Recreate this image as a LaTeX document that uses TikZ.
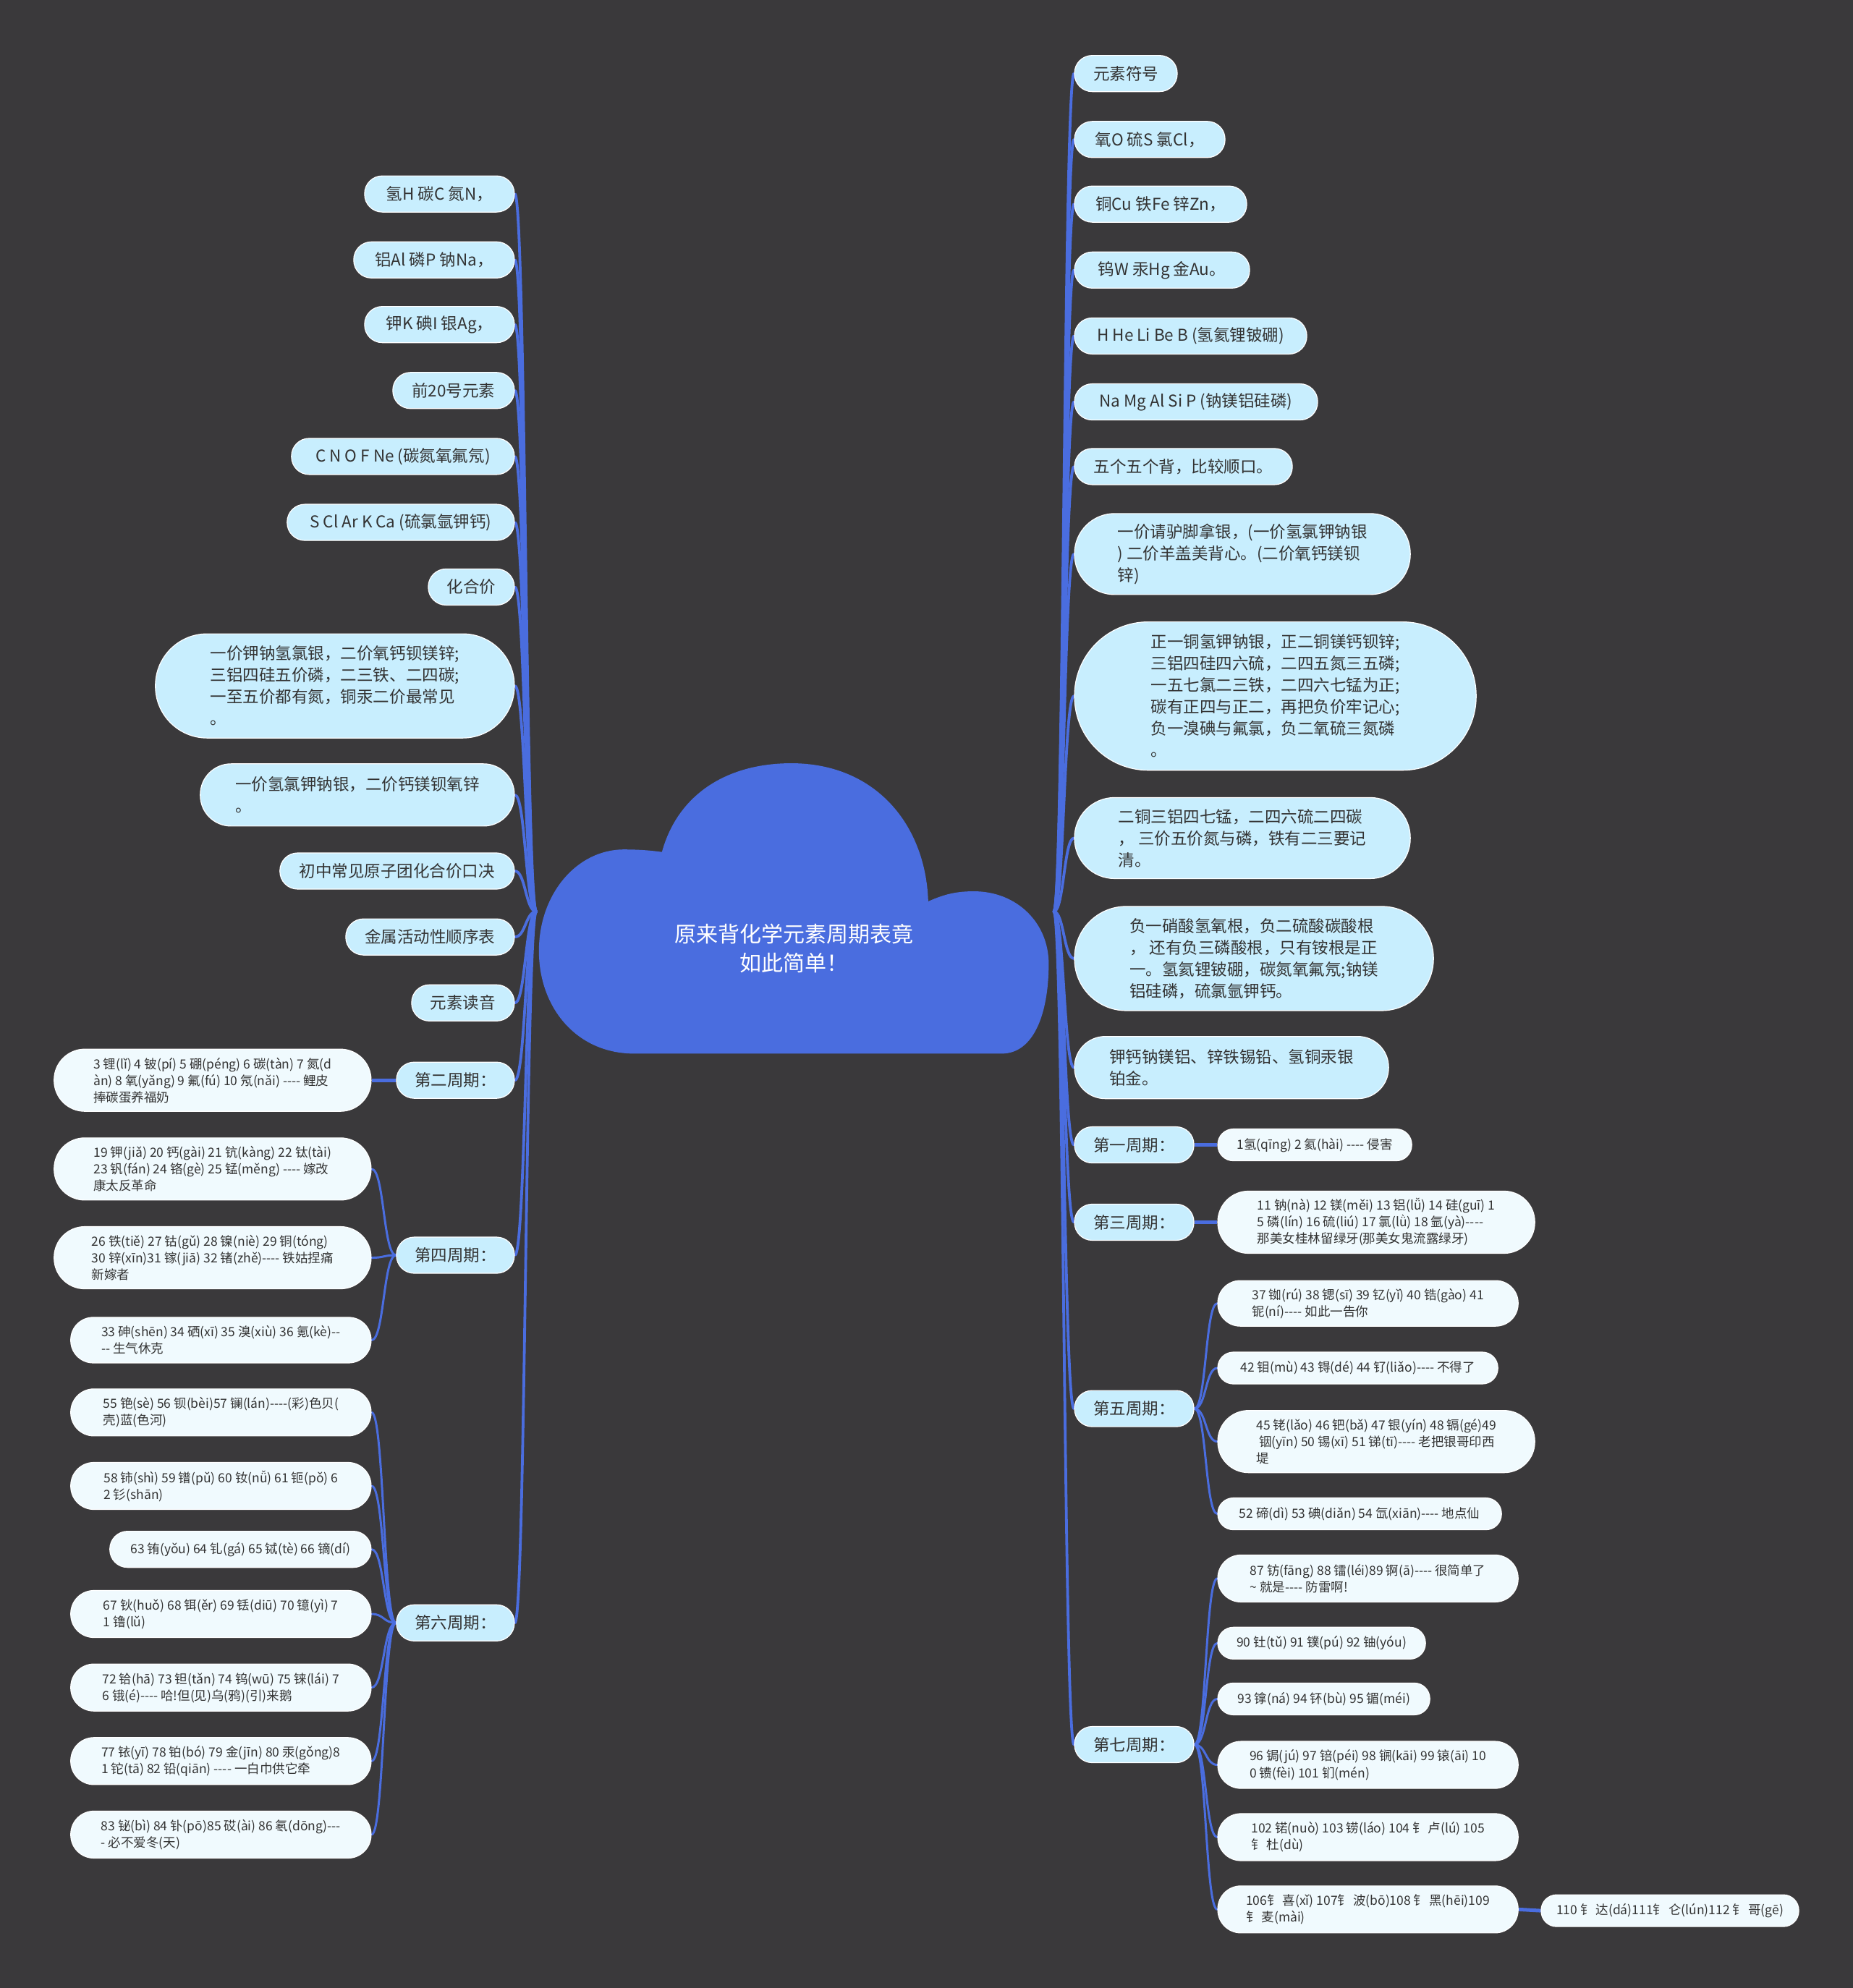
\documentclass[tikz,border=0pt]{standalone}
\usepackage{fontspec}
\newfontfamily\cjk{Noto Sans CJK SC}
\pgfdeclarelayer{back}
\pgfsetlayers{back,main}
\definecolor{bgc}{HTML}{3A393B}
\definecolor{blu}{HTML}{4A6DDF}
\definecolor{mfill}{HTML}{C8EEFE}
\definecolor{cfill}{HTML}{F0FAFE}
\definecolor{txt}{HTML}{333333}
\newcommand\hh{-\kern0pt}
\newcommand\qd{\hh\hh\hh\hh}
\begin{document}
\begin{tikzpicture}[x=1.752pt,y=-1.752pt,
  base/.style={draw=white, line width=1.2pt, text=txt, inner sep=0pt, align=left},
  mn/.style={base, fill=mfill, font=\cjk\fontsize{22.5}{30}\selectfont},
  sn/.style={base, fill=cfill, font=\cjk\fontsize{17.5}{23}\selectfont},
  h44/.style={minimum height=44pt, rounded corners=21.5pt},
  h50/.style={minimum height=50pt, rounded corners=24.5pt},
  h63/.style={minimum height=63pt, rounded corners=31pt},
  h65/.style={minimum height=65pt, rounded corners=32pt},
  h86/.style={minimum height=86pt, rounded corners=42.5pt},
  h112/.style={minimum height=112pt, rounded corners=55.5pt},
  h144/.style={minimum height=144pt, rounded corners=71.5pt},
  h205/.style={minimum height=205pt, rounded corners=102pt},
  trunk/.style={draw=blu, line width=3.8pt, line cap=round},
  subc/.style={draw=blu, line width=3pt, line cap=round},
  barc/.style={draw=blu, line width=5pt},
  rootn/.style={text=white, align=center, inner sep=0pt, font=\cjk\fontsize{30}{40}\selectfont}
]
\useasboundingbox (0,0) rectangle (1461,1568);

% ---------- root cloud ----------
\fill[blu] (522,672) .. controls (535,625) and (575,602) .. (624,602)
  .. controls (690,602) and (730,650) .. (732,711)
  .. controls (745,705) and (755,703) .. (768,703)
  .. controls (802,703) and (827,728) .. (827,760)
  .. controls (827,800) and (815,831) .. (790,831)
  -- (500,831)
  .. controls (455,831) and (425,795) .. (425,750)
  .. controls (425,705) and (455,670) .. (492,670)
  .. controls (505,670) and (515,671) .. (522,672) -- cycle;
\node[rootn] (root) at (626,748) {原来背化学元素周期表竟\\如此简单！};
\coordinate (rl) at (423,719);
\coordinate (rr) at (831,719);

% ---------- left main nodes ----------
\node[mn,h50,anchor=east,minimum width=207pt] (L1) at (406,153) {氢H 碳C 氮N，};
\node[mn,h50,anchor=east,minimum width=222pt] (L2) at (406,205) {铝Al 磷P 钠Na，};
\node[mn,h50,anchor=east,minimum width=207pt] (L3) at (406,256) {钾K 碘I 银Ag，};
\node[mn,h50,anchor=east,minimum width=168pt] (L4) at (406,308) {前20号元素};
\node[mn,h50,anchor=east,minimum width=308pt] (L5) at (406,360) {C N O F Ne (碳氮氧氟氖)};
\node[mn,h50,anchor=east,minimum width=314pt] (L6) at (406,412) {S Cl Ar K Ca (硫氯氩钾钙)};
\node[mn,h50,anchor=east,minimum width=119pt] (L7) at (406,463) {化合价};
\node[mn,h144,anchor=east,minimum width=496pt] (L8) at (406,541) {一价钾钠氢氯银，二价氧钙钡镁锌;\\三铝四硅五价磷，二三铁、二四碳;\\一至五价都有氮，铜汞二价最常见\\。};
\node[mn,h86,anchor=east,minimum width=434pt] (L9) at (406,627) {一价氢氯钾钠银，二价钙镁钡氧锌\\。};
\node[mn,h50,anchor=east,minimum width=324pt] (L10) at (406,687) {初中常见原子团化合价口决};
\node[mn,h50,anchor=east,minimum width=233pt] (L11) at (406,739) {金属活动性顺序表};
\node[mn,h50,anchor=east,minimum width=142pt] (L12) at (406,791) {元素读音};
\node[mn,h50,anchor=east,minimum width=163pt] (L13) at (406,852) {第二周期：};
\node[mn,h50,anchor=east,minimum width=163pt] (L14) at (406,990) {第四周期：};
\node[mn,h50,anchor=east,minimum width=163pt] (L15) at (406,1280) {第六周期：};

% ---------- left children ----------
\node[sn,h86,anchor=east,minimum width=438pt] (c2) at (293,852) {3 锂(lǐ) 4 铍(pí) 5 硼(péng) 6 碳(tàn) 7 氮(d\\àn) 8 氧(yǎng) 9 氟(fú) 10 氖(nǎi) \qd{} 鲤皮\\捧碳蛋养福奶};
\node[sn,h86,anchor=east,minimum width=438pt] (c4a) at (293,922) {19 钾(jiǎ) 20 钙(gài) 21 钪(kàng) 22 钛(tài)\\23 钒(fán) 24 铬(gè) 25 锰(měng) \qd{} 嫁改\\康太反革命};
\node[sn,h86,anchor=east,minimum width=438pt] (c4b) at (293,992) {26 铁(tiě) 27 钴(gǔ) 28 镍(niè) 29 铜(tóng)\\30 锌(xīn)31 镓(jiā) 32 锗(zhě)\qd{} 铁姑捏痛\\新嫁者};
\node[sn,h63,anchor=east,minimum width=415pt] (c4c) at (293,1057) {33 砷(shēn) 34 硒(xī) 35 溴(xiù) 36 氪(kè)\hh\hh\\\hh\hh{} 生气休克};
\node[sn,h65,anchor=east,minimum width=415pt] (c6a) at (293,1114) {55 铯(sè) 56 钡(bèi)57 镧(lán)\qd(彩)色贝(\\壳)蓝(色河)};
\node[sn,h65,anchor=east,minimum width=415pt] (c6b) at (293,1172) {58 铈(shì) 59 镨(pǔ) 60 钕(nǚ) 61 钷(pǒ) 6\\2 钐(shān)};
\node[sn,h50,anchor=east,minimum width=361pt] (c6c) at (293,1222) {63 铕(yǒu) 64 钆(gá) 65 铽(tè) 66 镝(dí)};
\node[sn,h65,anchor=east,minimum width=415pt] (c6d) at (293,1273) {67 钬(huǒ) 68 铒(ěr) 69 铥(diū) 70 镱(yì) 7\\1 镥(lǔ)};
\node[sn,h65,anchor=east,minimum width=415pt] (c6e) at (293,1331) {72 铪(hā) 73 钽(tǎn) 74 钨(wū) 75 铼(lái) 7\\6 锇(é)\qd{} 哈!但(见)乌(鸦)(引)来鹅};
\node[sn,h65,anchor=east,minimum width=415pt] (c6f) at (293,1389) {77 铱(yī) 78 铂(bó) 79 金(jīn) 80 汞(gǒng)8\\1 铊(tā) 82 铅(qiān) \qd{} 一白巾供它牵};
\node[sn,h65,anchor=east,minimum width=415pt] (c6g) at (293,1447) {83 铋(bì) 84 钋(pō)85 砹(ài) 86 氡(dōng)\hh\hh\hh\\\hh{} 必不爱冬(天)};

% ---------- right main nodes ----------
\node[mn,h50,anchor=west,minimum width=142pt] (R1) at (847,58) {元素符号};
\node[mn,h50,anchor=west,minimum width=208pt] (R2) at (847,110) {氧O 硫S 氯Cl，};
\node[mn,h50,anchor=west,minimum width=238pt] (R3) at (847,161) {铜Cu 铁Fe 锌Zn，};
\node[mn,h50,anchor=west,minimum width=242pt] (R4) at (847,213) {钨W 汞Hg 金Au。};
\node[mn,h50,anchor=west,minimum width=321pt] (R5) at (847,265) {H He Li Be B (氢氦锂铍硼)};
\node[mn,h50,anchor=west,minimum width=336pt] (R6) at (847,317) {Na Mg Al Si P (钠镁铝硅磷)};
\node[mn,h50,anchor=west,minimum width=301pt] (R7) at (847,368) {五个五个背，比较顺口。};
\node[mn,h112,anchor=west,minimum width=464pt] (R8) at (847,437) {一价请驴脚拿银，(一价氢氯钾钠银\\) 二价羊盖美背心。(二价氧钙镁钡\\锌)};
\node[mn,h205,anchor=west,minimum width=555pt] (R9) at (847,549) {正一铜氢钾钠银，正二铜镁钙钡锌;\\三铝四硅四六硫，二四五氮三五磷;\\一五七氯二三铁，二四六七锰为正;\\碳有正四与正二，再把负价牢记心;\\负一溴碘与氟氯，负二氧硫三氮磷\\。};
\node[mn,h112,anchor=west,minimum width=464pt] (R10) at (847,661) {二铜三铝四七锰，二四六硫二四碳\\， 三价五价氮与磷，铁有二三要记\\清。};
\node[mn,h144,anchor=west,minimum width=496pt] (R11) at (847,756) {负一硝酸氢氧根，负二硫酸碳酸根\\， 还有负三磷酸根，只有铵根是正\\一。氢氦锂铍硼，碳氮氧氟氖;钠镁\\铝硅磷，硫氯氩钾钙。};
\node[mn,h86,anchor=west,minimum width=434pt] (R12) at (847,842) {钾钙钠镁铝、锌铁锡铅、氢铜汞银\\铂金。};
\node[mn,h50,anchor=west,minimum width=165pt] (R13) at (847,903) {第一周期：};
\node[mn,h50,anchor=west,minimum width=165pt] (R14) at (847,964) {第三周期：};
\node[mn,h50,anchor=west,minimum width=165pt] (R15) at (847,1111) {第五周期：};
\node[mn,h50,anchor=west,minimum width=165pt] (R16) at (847,1376) {第七周期：};

% ---------- right children ----------
\node[sn,h44,anchor=west,minimum width=268pt] (d1) at (960,903) {1氢(qīng) 2 氦(hài) \qd{} 侵害};
\node[sn,h86,anchor=west,minimum width=438pt] (d3) at (960,964) {11 钠(nà) 12 镁(měi) 13 铝(lǚ) 14 硅(guī) 1\\5 磷(lín) 16 硫(liú) 17 氯(lǜ) 18 氩(yà)\qd\\那美女桂林留绿牙(那美女鬼流露绿牙)};
\node[sn,h63,anchor=west,minimum width=415pt] (d5a) at (960,1028) {37 铷(rú) 38 锶(sī) 39 钇(yǐ) 40 锆(gào) 41\\铌(ní)\qd{} 如此一告你};
\node[sn,h44,anchor=west,minimum width=387pt] (d5b) at (960,1079) {42 钼(mù) 43 锝(dé) 44 钌(liǎo)\qd{} 不得了};
\node[sn,h86,anchor=west,minimum width=438pt] (d5c) at (960,1137) {45 铑(lǎo) 46 钯(bǎ) 47 银(yín) 48 镉(gé)49\\\hspace*{4pt}铟(yīn) 50 锡(xī) 51 锑(tī)\qd{} 老把银哥印西\\堤};
\node[sn,h44,anchor=west,minimum width=392pt] (d5d) at (960,1194) {52 碲(dì) 53 碘(diǎn) 54 氙(xiān)\qd{} 地点仙};
\node[sn,h65,anchor=west,minimum width=415pt] (d7a) at (960,1245) {87 钫(fāng) 88 镭(léi)89 锕(ā)\qd{} 很简单了\\\textasciitilde{} 就是\qd{} 防雷啊!};
\node[sn,h44,anchor=west,minimum width=287pt] (d7b) at (960,1296) {90 钍(tǔ) 91 镤(pú) 92 铀(yóu)};
\node[sn,h44,anchor=west,minimum width=293pt] (d7c) at (960,1340) {93 镎(ná) 94 钚(bù) 95 镅(méi)};
\node[sn,h65,anchor=west,minimum width=415pt] (d7d) at (960,1392) {96 锔(jú) 97 锫(péi) 98 锎(kāi) 99 锿(āi) 10\\0 镄(fèi) 101 钔(mén)};
\node[sn,h65,anchor=west,minimum width=415pt] (d7e) at (960,1449) {102 锘(nuò) 103 铹(láo) 104 钅 卢(lú) 105\\钅 杜(dù)};
\node[sn,h65,anchor=west,minimum width=415pt] (d7f) at (960,1506) {106钅 喜(xǐ) 107钅 波(bō)108 钅 黑(hēi)109\\钅 麦(mài)};
\node[sn,h44,anchor=west,minimum width=356pt] (d7g) at (1215,1507) {110 钅 达(dá)111钅 仑(lún)112 钅 哥(gē)};

% ---------- background and connectors ----------
\begin{pgfonlayer}{back}
\fill[bgc] (0,0) rectangle (1461,1568);
\foreach \n in {L1,L2,L3,L4,L5,L6,L7,L8,L9,L10,L11,L12,L13,L14,L15}
  \draw[trunk] (rl) .. controls +(-8.5,0) and +(8.5,0) .. (\n.east);
\foreach \n in {R1,R2,R3,R4,R5,R6,R7,R8,R9,R10,R11,R12,R13,R14,R15,R16}
  \draw[trunk] (rr) .. controls +(8,0) and +(-8,0) .. (\n.west);
\draw[barc] (L13.west) -- (c2.east);
\foreach \n in {c4a,c4b,c4c}
  \draw[subc] (L14.west) .. controls +(-10,0) and +(10,0) .. (\n.east);
\foreach \n in {c6a,c6b,c6c,c6d,c6e,c6f,c6g}
  \draw[subc] (L15.west) .. controls +(-10,0) and +(10,0) .. (\n.east);
\draw[barc] (R13.east) -- (d1.west);
\draw[barc] (R14.east) -- (d3.west);
\foreach \n in {d5a,d5b,d5c,d5d}
  \draw[subc] (R15.east) .. controls +(9.5,0) and +(-9.5,0) .. (\n.west);
\foreach \n in {d7a,d7b,d7c,d7d,d7e,d7f}
  \draw[subc] (R16.east) .. controls +(9.5,0) and +(-9.5,0) .. (\n.west);
\draw[barc] (d7f.east) -- (d7g.west);
\end{pgfonlayer}
\end{tikzpicture}
\end{document}
